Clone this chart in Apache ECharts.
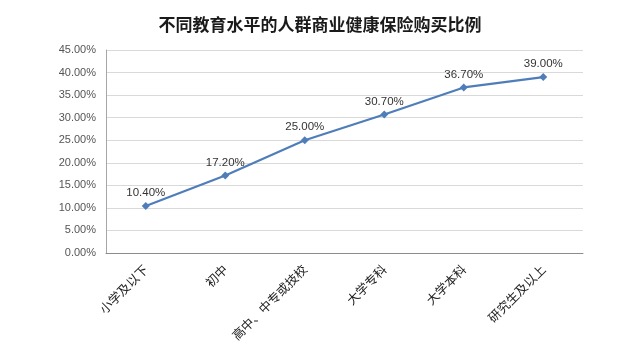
<!DOCTYPE html>
<html><head><meta charset="utf-8">
<script src="https://cdn.jsdelivr.net/npm/echarts@6/dist/echarts.min.js"></script>
<style>html,body{margin:0;padding:0;background:#fff}#c{width:640px;height:356px}</style>
</head><body><div id="c"></div>
<script>
const categories = ['小学及以下','初中','高中、中专或技校','大学专科','大学本科','研究生及以上'];
const values = [10.4, 17.2, 25.0, 30.7, 36.7, 39.0];
const titleText = '不同教育水平的人群商业健康保险购买比例';

const chart = echarts.init(document.getElementById('c'), null, {renderer:'canvas'});
chart.setOption({
  backgroundColor:'#fff',
  animation:false,
  title:{text:titleText,left:'center',top:11,
    textStyle:{fontFamily:'Noto Sans CJK SC',fontSize:17,fontWeight:'bold',color:'#1a1a1a'}},
  grid:{left:106,right:57,top:50,bottom:103},
  xAxis:{type:'category',data:categories,boundaryGap:true,
    axisLine:{lineStyle:{color:'#8c8c8c'}},
    axisTick:{show:false},
    axisLabel:{rotate:45,interval:0,margin:14,fontFamily:'Noto Sans CJK SC',fontSize:12.5,color:'#222'}},
  yAxis:{type:'value',min:0,max:45,interval:5,
    axisLine:{show:true,lineStyle:{color:'#a6a6a6'}},
    axisTick:{show:false},
    splitLine:{lineStyle:{color:'#d9d9d9'}},
    axisLabel:{formatter:v=>v.toFixed(2)+'%',fontFamily:'Liberation Sans',fontSize:11,color:'#555',margin:10}},
  series:[{type:'line',data:values,symbol:'diamond',symbolSize:8,
    lineStyle:{color:'#4f7dba',width:2.2},
    itemStyle:{color:'#4f7dba'},
    label:{show:true,position:'top',distance:3,formatter:p=>p.value.toFixed(2)+'%',
      fontFamily:'Liberation Sans',fontSize:11.5,color:'#333'}}]
});
</script></body></html>
